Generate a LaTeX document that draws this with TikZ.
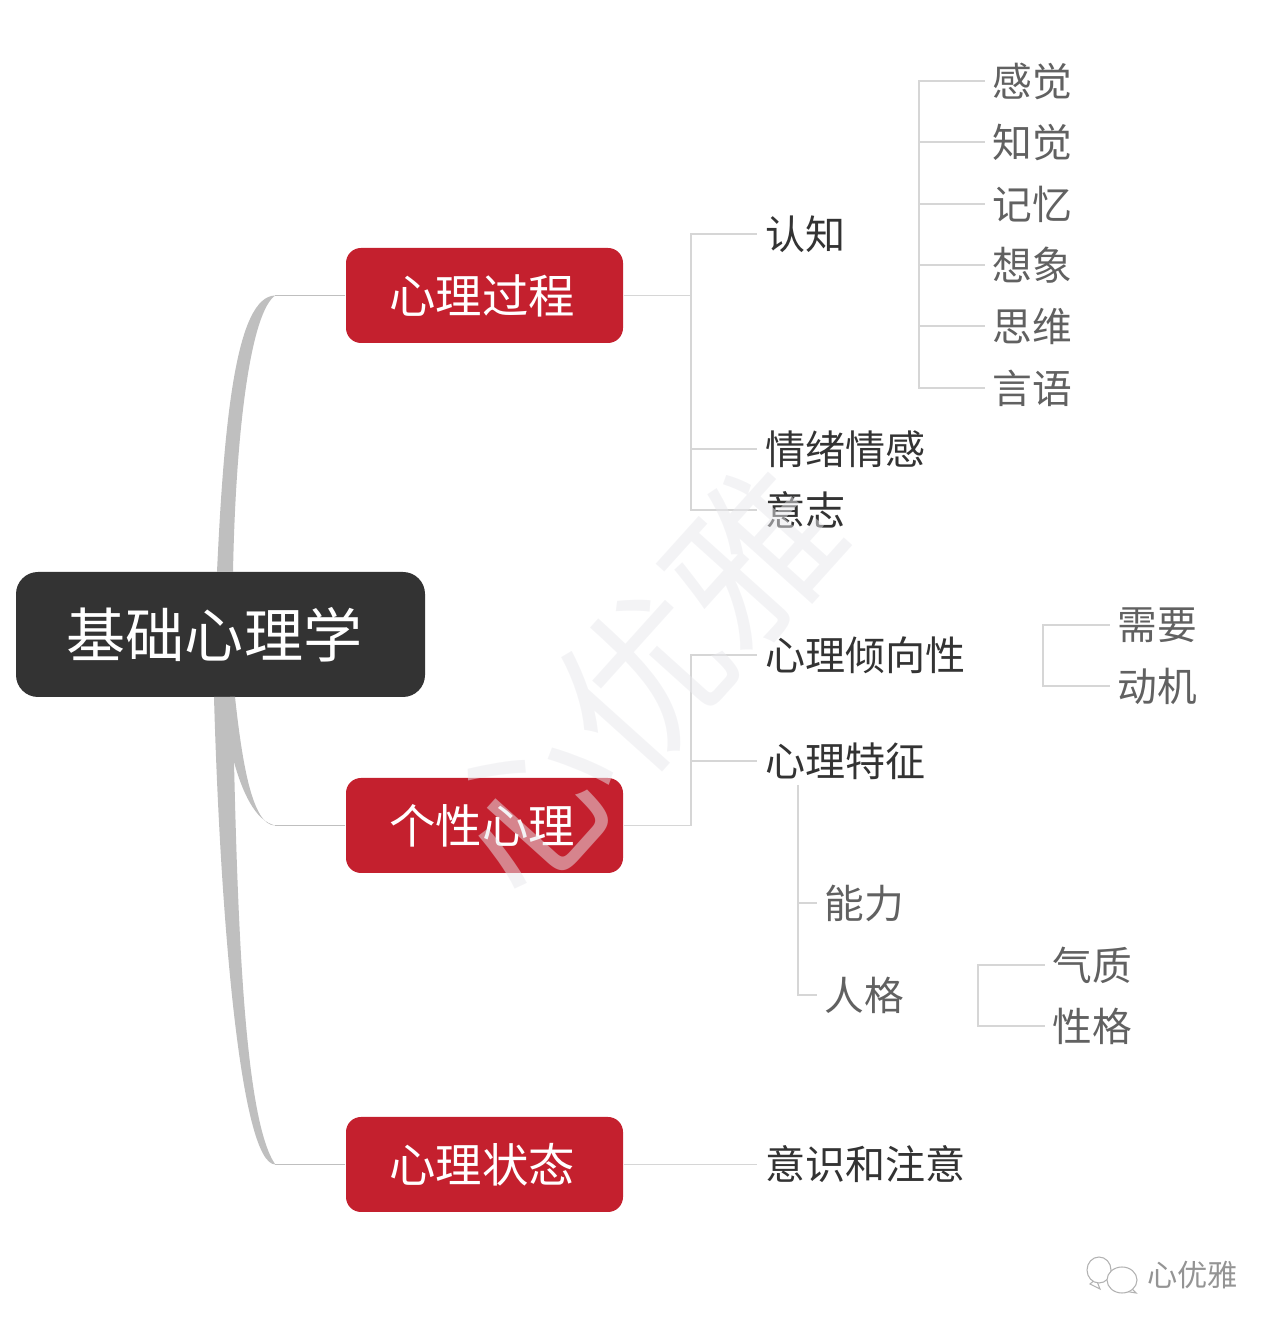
\documentclass[tikz,border=0pt]{standalone}
\usepackage{fontspec}
\setmainfont{Noto Sans CJK SC}
\usetikzlibrary{positioning}
\definecolor{boxred}{HTML}{C4202E}
\definecolor{rootgray}{HTML}{333333}
\definecolor{branchgray}{HTML}{BFBFBF}
\definecolor{linkgray}{HTML}{D6D6D6}
\definecolor{markgray}{HTML}{E8E8EC}
\tikzset{
  rootbox/.style={fill=rootgray, text=white, rounded corners=0.22cm, minimum width=4.09cm, minimum height=1.25cm, inner sep=0pt, font=\fontsize{16.8}{18}\selectfont},
  topicbox/.style={fill=boxred, text=white, rounded corners=0.15cm, minimum width=2.77cm, minimum height=0.95cm, inner sep=0pt, font=\fontsize{13.2}{15}\selectfont},
  midleaf/.style={anchor=west, inner xsep=0.08cm, inner ysep=0pt, text=black!80, font=\fontsize{11.4}{13}\selectfont},
  lowleaf/.style={anchor=west, inner xsep=0.07cm, inner ysep=0pt, text=black!62, font=\fontsize{11.3}{13}\selectfont},
  link/.style={draw=linkgray, line width=0.5pt},
  branch/.style={fill=branchgray, draw=none},
}
\begin{document}
\begin{tikzpicture}
    \useasboundingbox (0,0) rectangle (12.8,13.31);

    \node[rootbox] (root) at (2.205,6.965) {\kern-0.12cm 基础心理学};
    \node[topicbox] (guocheng) at (4.845,10.355) {\kern-0.05cm 心理过程};
    \node[topicbox] (gexing) at (4.845,5.055) {\kern-0.05cm 个性心理};
    \node[topicbox] (zhuangtai) at (4.845,1.665) {\kern-0.05cm 心理状态};

    % main branches
    \draw[link, draw=branchgray] (guocheng.west) -- ++(-0.70,0) coordinate (tip1);
    \draw[link, draw=branchgray] (gexing.west) -- ++(-0.70,0) coordinate (tip2);
    \draw[link, draw=branchgray] (zhuangtai.west) -- ++(-0.70,0) coordinate (tip3);
    \fill[branch] (2.17,7.59) .. controls (2.24,9.1) and (2.36,10.35) .. (tip1) .. controls (2.52,10.2) and (2.36,9.1) .. (2.33,7.59) -- cycle;
    \fill[branch] (2.35,6.34) .. controls (2.42,5.7) and (2.52,5.05) .. (tip2) .. controls (2.55,5.1) and (2.42,5.4) .. (2.34,5.69) -- (2.30,6.34) -- cycle;
    \fill[branch] (2.14,6.34) .. controls (2.2,4.2) and (2.4,1.665) .. (tip3) .. controls (2.45,2.1) and (2.38,4) .. (2.34,5.69) -- (2.35,6.34) -- cycle;

    % second level
    \node[midleaf] (renzhi) at (7.57,10.97) {认知};
    \node[midleaf] (qingxu) at (7.57,8.82) {情绪情感};
    \node[midleaf] (yizhi) at (7.57,8.21) {意志};
    \node[midleaf] (qingxiang) at (7.57,6.76) {心理倾向性};
    \node[midleaf] (tezheng) at (7.57,5.70) {心理特征};
    \node[midleaf] (yishi) at (7.57,1.665) {意识和注意};

    \foreach \n in {renzhi,qingxu,yizhi}{
      \draw[link] (guocheng.east) -- ++(0.675,0) |- (\n.west);
    }
    \foreach \n in {qingxiang,tezheng}{
      \draw[link] (gexing.east) -- ++(0.675,0) |- (\n.west);
    }
    \draw[link] (zhuangtai.east) -- (yishi.west);

    % under renzhi
    \coordinate (jrenzhi) at (9.19,10.97);
    \foreach \n/\t/\y in {ganjue/感觉/12.50, zhijue/知觉/11.89, jiyi/记忆/11.27, xiangxiang/想象/10.66, siwei/思维/10.05, yanyu/言语/9.43}{
      \node[lowleaf] (\n) at (9.85,\y) {\t};
      \draw[link] (jrenzhi) |- (\n.west);
    }

    % under qingxiang
    \coordinate (jqingxiang) at (10.43,6.76);
    \foreach \n/\t/\y in {xuyao/需要/7.06, dongji/动机/6.45}{
      \node[lowleaf] (\n) at (11.10,\y) {\t};
      \draw[link] (jqingxiang) |- (\n.west);
    }

    % under tezheng
    \coordinate (jtezheng) at (7.98,5.46);
    \foreach \n/\t/\y in {nengli/能力/4.28, renge/人格/3.36}{
      \node[lowleaf] (\n) at (8.17,\y) {\t};
      \draw[link] (jtezheng) |- (\n.west);
    }

    % under renge
    \coordinate (jrenge) at (9.78,3.36);
    \foreach \n/\t/\y in {qizhi/气质/3.66, xingge/性格/3.05}{
      \node[lowleaf] (\n) at (10.45,\y) {\t};
      \draw[link] (jrenge) |- (\n.west);
    }

    % watermark
    \node[rotate=48, text=markgray, opacity=0.5, font=\fontsize{47}{50}\selectfont] (mark) at (6.43,6.51) {心优雅};
    \draw[black!30, line width=0.3pt, fill=white] (10.96,0.52) -- (11.0,0.42) -- (10.9,0.47) -- cycle;
    \draw[black!30, line width=0.3pt, fill=white] (10.99,0.61) ellipse (0.12 and 0.13);
    \draw[black!30, line width=0.3pt, fill=white] (11.3,0.44) -- (11.36,0.38) -- (11.24,0.4) -- cycle;
    \draw[black!30, line width=0.3pt, fill=white] (11.22,0.51) ellipse (0.15 and 0.13);
    \node[text=black!42, font=\fontsize{8.6}{10}\selectfont] (sign) at (11.925,0.56) {心优雅};
\end{tikzpicture}
\end{document}
